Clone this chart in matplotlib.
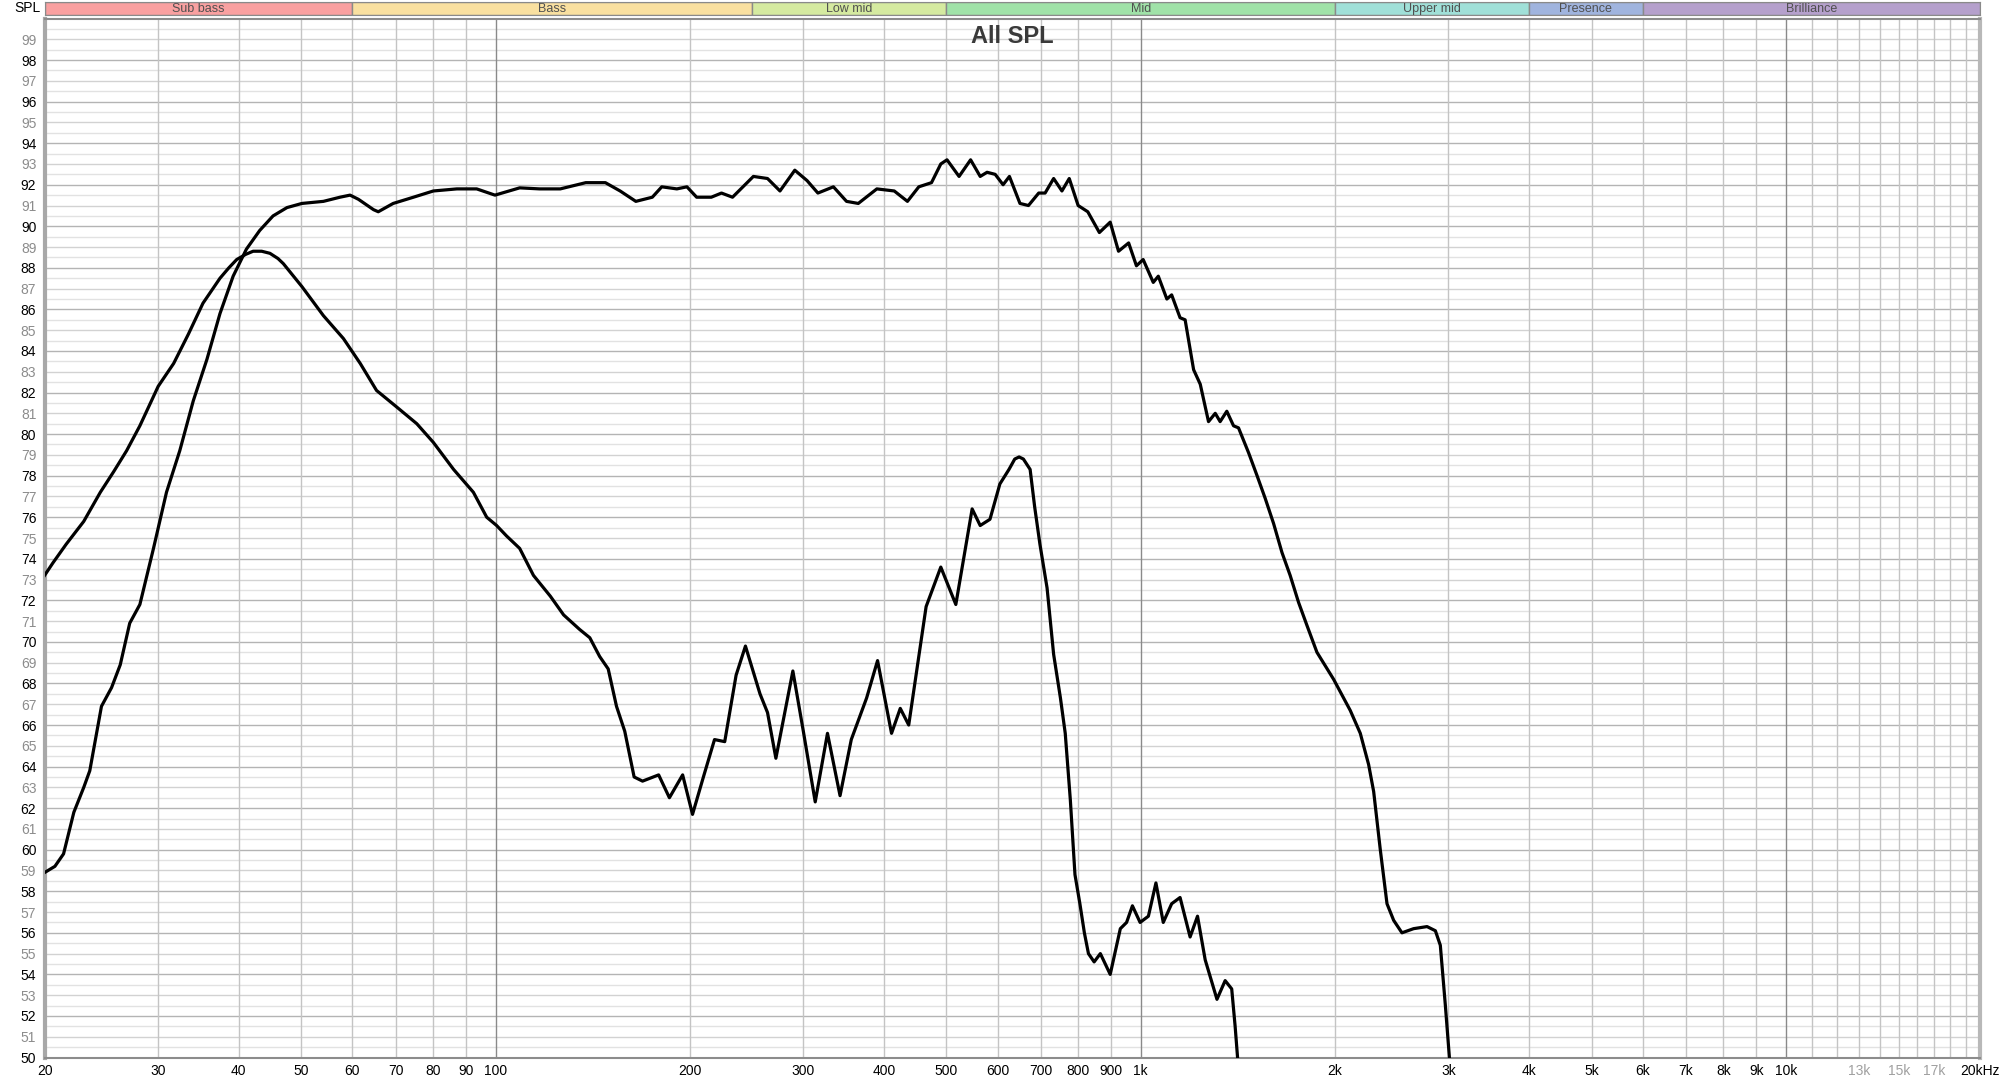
import numpy as np
import matplotlib.pyplot as plt
from matplotlib.ticker import NullLocator

plt.rcParams['font.family'] = ['Liberation Sans Narrow', 'Liberation Sans', 'DejaVu Sans']

# wide range curve (plateau ~91-93 dB)
freq_a = [20, 20.75, 21.4, 22.2, 23.0, 23.5, 24.5, 25.4, 26.2, 27.1, 28.1, 29.5, 30.9, 32.4,
          34.0, 35.7, 37.4, 39.2, 41.1, 43.1, 45.2, 47.5, 50.1, 54.1, 57.4, 59.5, 61.3, 64.7,
          65.8, 69.4, 74.6, 80.1, 87.1, 93.5, 99.8, 109, 117, 126, 138, 148, 156, 165, 175,
          181, 191, 198, 205, 216, 224, 233, 251, 264, 276, 291, 304, 316, 334, 350, 365,
          390, 415, 435, 453, 474, 490, 501, 523, 545, 564, 578, 595, 612, 626, 650, 670,
          695, 711, 733, 755, 775, 800, 828, 863, 897, 924, 958, 985, 1009, 1046, 1065,
          1098, 1117, 1151, 1172, 1208, 1237, 1274, 1305, 1328, 1360, 1393, 1418, 1470,
          1515, 1560, 1607, 1656, 1705, 1757, 1810, 1876, 1991, 2113, 2190, 2256, 2297,
          2352, 2409, 2467, 2541, 2649, 2779, 2863, 2914, 2967, 3010]
spl_a = [58.9, 59.2, 59.8, 61.8, 63.0, 63.8, 66.9, 67.8, 68.9, 70.9, 71.8, 74.5, 77.2, 79.2,
         81.6, 83.6, 85.8, 87.6, 88.9, 89.8, 90.5, 90.9, 91.1, 91.2, 91.4, 91.5, 91.3, 90.8,
         90.7, 91.1, 91.4, 91.7, 91.8, 91.8, 91.5, 91.85, 91.8, 91.8, 92.1, 92.1, 91.7, 91.2, 91.4,
         91.9, 91.8, 91.9, 91.4, 91.4, 91.6, 91.4, 92.4, 92.3, 91.7, 92.7, 92.2, 91.6, 91.9, 91.2, 91.1,
         91.8, 91.7, 91.2, 91.9, 92.1, 93.0, 93.2, 92.4, 93.2, 92.4, 92.6, 92.5, 92.0, 92.4, 91.1, 91.0,
         91.6, 91.6, 92.3, 91.7, 92.3, 91.0, 90.7, 89.7, 90.2, 88.8, 89.2, 88.1, 88.4, 87.3, 87.6,
         86.5, 86.7, 85.6, 85.5, 83.1, 82.4, 80.6, 81.0, 80.6, 81.1, 80.4, 80.3, 79.1,
         78.0, 76.9, 75.7, 74.3, 73.2, 71.9, 70.8, 69.5, 68.2, 66.7, 65.6, 64.1, 62.8,
         60.0, 57.4, 56.6, 56.0, 56.2, 56.3, 56.1, 55.4, 52.5, 50.0]

# low/mid curve with the 43 Hz peak
freq_b = [20, 20.6, 21.6, 23.0, 24.4, 25.6, 26.8, 28.1, 30.0, 31.7, 33.4, 35.2, 37.4, 38.6, 39.7,
          41.0, 42.1, 43.4, 44.7, 46.0, 46.9, 50.1, 54.1, 58.1, 61.7, 65.4, 70.3, 75.5, 80.1, 86.1,
          92.4, 96.9, 100.4, 104, 109, 114.5, 121.6, 127.5, 135, 140, 145, 149.5, 154, 158.6, 164, 169,
          179, 186, 195, 202, 210, 218.5, 226.6, 236, 244, 257, 264, 272, 289, 300, 313, 327,
          342, 356, 376, 391, 411, 424, 437, 465, 490, 517, 548, 564, 584, 605, 625, 638, 648, 658, 674,
          685, 698, 716, 733, 751, 764, 778, 791, 805, 818, 830, 847, 866, 897, 930, 951, 971, 998,
          1028, 1056, 1084, 1117, 1151, 1193, 1225, 1259, 1313, 1352, 1384, 1401, 1414]
spl_b = [73.2, 73.8, 74.7, 75.8, 77.2, 78.2, 79.2, 80.4, 82.3, 83.4, 84.8, 86.3, 87.5, 88.0, 88.4,
         88.65, 88.8, 88.8, 88.7, 88.45, 88.2, 87.1, 85.7, 84.6, 83.4, 82.1, 81.3, 80.5, 79.6, 78.3,
         77.2, 76.0, 75.6, 75.1, 74.5, 73.2, 72.2, 71.3, 70.6, 70.2, 69.3, 68.7, 66.9, 65.7, 63.5, 63.3,
         63.6, 62.5, 63.6, 61.7, 63.5, 65.3, 65.2, 68.4, 69.8, 67.5, 66.6, 64.4, 68.6, 65.7, 62.3, 65.6,
         62.6, 65.3, 67.3, 69.1, 65.6, 66.8, 66.0, 71.7, 73.6, 71.8, 76.4, 75.6, 75.9, 77.6, 78.3, 78.8, 78.9, 78.8, 78.3,
         76.5, 74.7, 72.6, 69.4, 67.3, 65.6, 62.4, 58.8, 57.4, 56.0, 55.0, 54.6, 55.0, 54.0, 56.2, 56.5, 57.3, 56.5,
         56.8, 58.4, 56.5, 57.4, 57.7, 55.8, 56.8, 54.7, 52.8, 53.7, 53.3, 51.5, 49.9]

band_names = ['Sub bass', 'Bass', 'Low mid', 'Mid', 'Upper mid', 'Presence', 'Brilliance']
band_edges = [20, 60, 250, 500, 2000, 4000, 6000, 20000]
band_colors = ['#f9a0a0', '#f9e0a0', '#d5eaa0', '#a0e2a8', '#a0e0d8', '#a0b4de', '#b5a0cc']

xtick_freqs = [20, 30, 40, 50, 60, 70, 80, 90, 100, 200, 300, 400, 500, 600, 700, 800, 900,
               1000, 2000, 3000, 4000, 5000, 6000, 7000, 8000, 9000, 10000, 13000, 15000, 17000, 20000]
xtick_labels = ['20', '30', '40', '50', '60', '70', '80', '90', '100', '200', '300', '400', '500',
                '600', '700', '800', '900', '1k', '2k', '3k', '4k', '5k', '6k', '7k', '8k', '9k',
                '10k', '13k', '15k', '17k', '20kHz']
grid_freqs = (list(range(20, 100, 10)) + list(range(100, 1000, 100)) +
              list(range(1000, 10000, 1000)) + list(range(10000, 20001, 1000)))
yticks = list(range(50, 100))

W, H = 2000, 1082
fig = plt.figure(figsize=(W/100, H/100), dpi=100)
fig.patch.set_facecolor('white')
x0, x1 = 44.6, 1980
y_top, y_bot = 18.5, 1057.5
ax = fig.add_axes([x0/W, 1 - y_bot/H, (x1 - x0)/W, (y_bot - y_top)/H])
ax.set_xscale('log')
ax.set_xlim(20, 20000)
ax.set_ylim(50, 100)

# horizontal grid every 0.5 dB
for v in np.arange(50.5, 100, 0.5):
    if v % 2 == 0:
        c = '#b4b4b4'
    elif v % 1 == 0:
        c = '#d2d2d2'
    else:
        c = '#e2e2e2'
    ax.axhline(v, color=c, lw=1, zorder=1)
for f in grid_freqs:
    c = '#8a8a8a' if f in (100, 1000, 10000) else '#c4c4c4'
    ax.axvline(f, color=c, lw=1, zorder=1)

ax.plot(freq_a, spl_a, color='black', lw=2.3, zorder=3, solid_joinstyle='round')
ax.plot(freq_b, spl_b, color='black', lw=2.3, zorder=3, solid_joinstyle='round')

ax.xaxis.set_minor_locator(NullLocator())
ax.set_xticks(xtick_freqs)
ax.set_xticklabels(xtick_labels)
ax.set_yticks(yticks)
ax.set_yticklabels([str(v) for v in yticks])
ax.tick_params(axis='both', length=0, labelsize=10)
ax.tick_params(axis='x', pad=5)
ax.tick_params(axis='y', pad=6)
for lab, f in zip(ax.get_xticklabels(), xtick_freqs):
    lab.set_color('#a0a0a0' if f in (13000, 15000, 17000) else 'black')
for lab, v in zip(ax.get_yticklabels(), yticks):
    lab.set_color('black' if v % 2 == 0 else '#8c8c8c')
for s in ax.spines.values():
    s.set_color('#8c8c8c')
    s.set_linewidth(1.5)
ax.spines['left'].set_linewidth(3)
ax.spines['left'].set_color('#a8a8a8')
ax.spines['right'].set_linewidth(3)
ax.spines['right'].set_color('#b8b8b8')

ax.text(0.5, 1 - 18/(y_bot - y_top), 'All SPL', transform=ax.transAxes, ha='center', va='center',
        fontsize=17, fontweight='bold', color='#3a3a3a', family=['Liberation Sans', 'DejaVu Sans'])

# frequency band strip on top
bax = fig.add_axes([x0/W, 1 - 15/H, (x1 - x0)/W, 13/H])
bax.set_xscale('log')
bax.set_xlim(20, 20000)
bax.set_ylim(0, 1)
for name, lo, hi, col in zip(band_names, band_edges[:-1], band_edges[1:], band_colors):
    bax.axvspan(lo, hi, facecolor=col, edgecolor='#8a8a8a', lw=1)
    bax.text(np.sqrt(lo*hi), 0.45, name, ha='center', va='center', fontsize=9, color='#505050')
bax.set_xticks([])
bax.set_yticks([])
bax.xaxis.set_minor_locator(NullLocator())
for s in bax.spines.values():
    s.set_color('#8a8a8a')

fig.text(27/W, 1 - 7.5/H, 'SPL', ha='center', va='center', fontsize=10, color='black')

fig.savefig('out.png', dpi=100, facecolor='white')
